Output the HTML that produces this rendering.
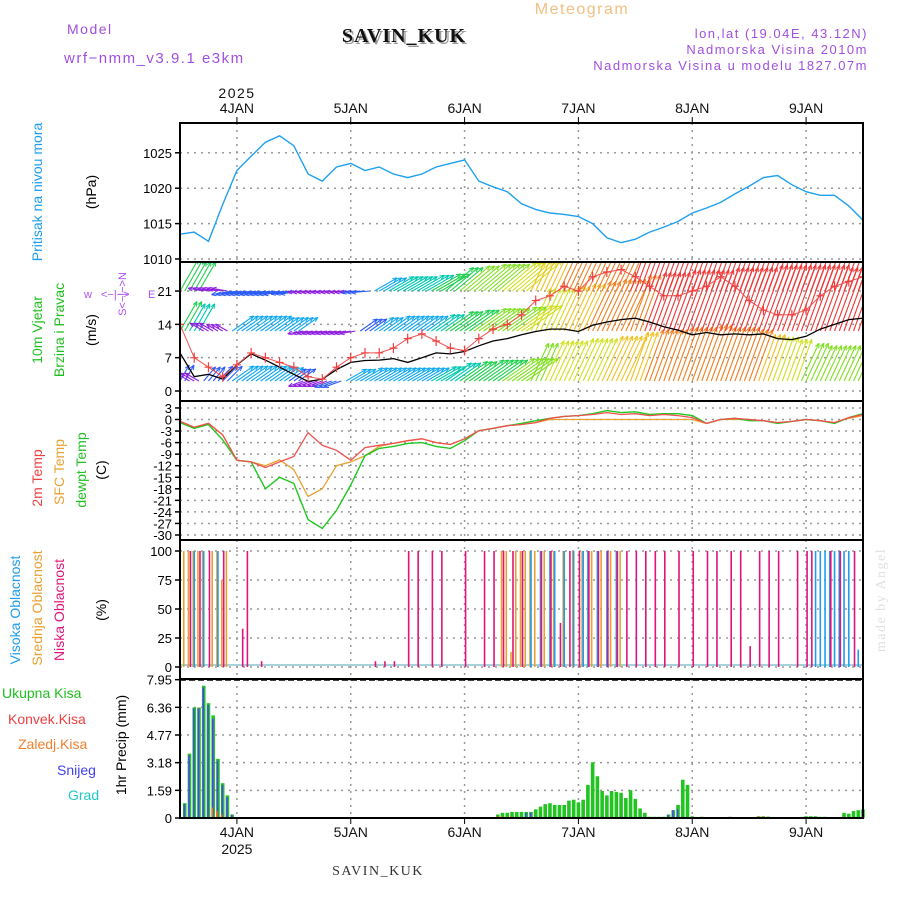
<!DOCTYPE html>
<html><head><meta charset="utf-8"><style>
html,body{margin:0;padding:0;background:#fff}
svg{display:block;font-family:"Liberation Sans",sans-serif}
</style></head><body>
<svg id="chart" width="900" height="900" viewBox="0 0 900 900" xmlns="http://www.w3.org/2000/svg">
<defs>
<clipPath id="c1"><rect x="180" y="123" width="683" height="139"/></clipPath>
<clipPath id="c2"><rect x="180" y="262" width="683" height="139"/></clipPath>
<clipPath id="c3"><rect x="180" y="401" width="683" height="139"/></clipPath>
<clipPath id="c4"><rect x="180" y="540" width="683" height="139"/></clipPath>
<clipPath id="c5"><rect x="180" y="679" width="683" height="139"/></clipPath>
</defs>
<g font-size="14" letter-spacing="1.5">
<text x="67" y="34" fill="#a050e0">Model</text>
<text x="64" y="63" fill="#a050e0" font-size="15">wrf−nmm_v3.9.1 e3km</text>
<text x="406" y="44" fill="#999" font-size="20" font-weight="bold" font-family="Liberation Serif,serif" text-anchor="middle" letter-spacing="1">SAVIN_KUK</text>
<text x="404" y="42" fill="#111" font-size="20" font-weight="bold" font-family="Liberation Serif,serif" text-anchor="middle" letter-spacing="1">SAVIN_KUK</text>
<text x="582" y="14" fill="#f0c080" font-size="16" text-anchor="middle">Meteogram</text>
<text x="868" y="38" fill="#a050e0" font-size="13" text-anchor="end">lon,lat (19.04E, 43.12N)</text>
<text x="868" y="54" fill="#a050e0" font-size="13" text-anchor="end">Nadmorska Visina 2010m</text>
<text x="868" y="70" fill="#a050e0" font-size="13" text-anchor="end">Nadmorska Visina u modelu 1827.07m</text>
<text x="237" y="98" font-size="14" text-anchor="middle" fill="#111">2025</text>
<text x="378" y="875" font-size="14" text-anchor="middle" fill="#333" font-family="Liberation Serif,serif">SAVIN_KUK</text>
<text x="885" y="600" font-size="14" fill="#dde3dd" font-family="Liberation Serif,serif" text-anchor="middle" transform="rotate(-90 885 600)">made by Angel</text>
</g>
<g font-size="14">
<text transform="translate(42 192) rotate(-90)" text-anchor="middle" fill="#1e9cf0">Pritisak na nivou mora</text>
<text transform="translate(96 192) rotate(-90)" text-anchor="middle" fill="#000">(hPa)</text>
<text transform="translate(42 330) rotate(-90)" text-anchor="middle" fill="#20c020">10m Vjetar</text>
<text transform="translate(64 330) rotate(-90)" text-anchor="middle" fill="#20c020">Brzina i Pravac</text>
<text transform="translate(96 330) rotate(-90)" text-anchor="middle" fill="#000">(m/s)</text>
<g fill="#b050f0" font-size="11">
<text x="84" y="298">w</text><text x="101" y="298">&lt;−|−&gt;</text><text x="148" y="298">E</text>
<text transform="translate(126 294) rotate(-90)" text-anchor="middle">S&lt;−|−&gt;N</text>
</g>
<text transform="translate(42 478) rotate(-90)" text-anchor="middle" fill="#f04040">2m Temp</text>
<text transform="translate(64 472) rotate(-90)" text-anchor="middle" fill="#e8a030">SFC Temp</text>
<text transform="translate(86 470) rotate(-90)" text-anchor="middle" fill="#20c020">dewpt Temp</text>
<text transform="translate(106 470) rotate(-90)" text-anchor="middle" fill="#000">(C)</text>
<text transform="translate(20 610) rotate(-90)" text-anchor="middle" fill="#1e9cf0">Visoka Oblacnost</text>
<text transform="translate(42 608) rotate(-90)" text-anchor="middle" fill="#e8a030">Srednja Oblacnost</text>
<text transform="translate(64 610) rotate(-90)" text-anchor="middle" fill="#e0147a">Niska Oblacnost</text>
<text transform="translate(106 610) rotate(-90)" text-anchor="middle" fill="#000">(%)</text>
<text transform="translate(126 745) rotate(-90)" text-anchor="middle" fill="#000">1hr Precip (mm)</text>
<text x="2" y="698" fill="#20c020">Ukupna Kisa</text>
<text x="8" y="724" fill="#f04040">Konvek.Kisa</text>
<text x="18" y="749" fill="#f08030">Zaledj.Kisa</text>
<text x="57" y="775" fill="#4040f0">Snijeg</text>
<text x="68" y="800" fill="#20c8c8">Grad</text>
</g>
<g id="grid"></g>
<g id="marks"></g>
<g id="frame"></g>
</svg>
<script>
// ---------- data ----------
const dayLabels = ["4JAN","5JAN","6JAN","7JAN","8JAN","9JAN"];
const dayHours = [12,36,60,84,108,132];
const pressTicks = [1010,1015,1020,1025];
const windTicks = [0,7,14,21];
const tempTicks = [3,0,-3,-6,-9,-12,-15,-18,-21,-24,-27,-30];
const cloudTicks = [0,25,50,75,100];
const precipTicks = [0,1.59,3.18,4.77,6.36,7.95];
// 3-hourly series (h = 0,3,...,144)
const pressure = [1013.5,1013.8,1012.5,1017.7,1022.5,1024.5,1026.5,1027.4,1026,1022,1021,1023,1023.5,1022.5,1023,1022,1021.5,1022,1023,1023.5,1024,1021,1020.2,1019.5,1017.8,1017,1016.5,1016.3,1016,1015,1013,1012.3,1012.8,1013.8,1014.5,1015.3,1016.5,1017.2,1018,1019.2,1020.3,1021.5,1021.8,1020.5,1019.5,1019,1019,1017.5,1015.5];
const temp2m = [-0.5,-2,-1,-4,-10.6,-11,-12.5,-11,-9.6,-3.4,-6.7,-8,-10.6,-7.3,-6.7,-6.2,-5.5,-5,-6,-6.5,-5,-2.9,-2.3,-1.6,-1.3,-0.8,0.3,0.8,1,1.3,1.8,1.3,1.5,1,1.3,1,0.5,-1,0,0.3,0,-0.3,-0.8,-0.5,0,-0.3,-0.8,0.5,1.3];
const tempSfc = [-0.5,-2,-1,-4,-10.6,-11,-12,-10.5,-13,-20,-18,-12,-11,-9.4,-7,-6.2,-5.5,-5,-6,-6.5,-5,-2.9,-2.3,-1.6,-1.3,-0.8,0,0,0,0,0,0,0,0,0,0,0,-1,0,0,0,-0.3,-0.8,-0.5,0,-0.3,-0.8,0.3,1];
const dewpt = [-0.8,-2.3,-1.3,-5.3,-10.6,-11,-18,-15,-16.6,-26,-28.3,-23.6,-17,-9.4,-7.5,-7,-6.2,-6,-7,-7.5,-5.5,-2.9,-2.3,-1.6,-1,-0.3,0.3,0.8,1,1.5,2.3,1.8,2,1.3,1.5,1.5,1,-1,0,0.3,-0.3,-0.3,-1,-0.5,0,-0.3,-1,0.5,1.5];
const windSpeed = [8,3,3.5,2.5,5.5,7.8,6.5,5,3.5,2,2.5,4.5,6,6.4,6.5,6.8,6,7,8,7.8,8.3,9.5,10.5,11,11.8,12.5,13,13,12.5,13.8,14.5,15,15.3,14.5,13.5,12.8,11.8,12.3,11.8,12,11.8,12,11,10.8,11.5,13,14,15,15.3];
const windGust = [14,7,5,3,5.5,8,7,6,5,3,2.5,5,7,8,8,9,11,12,10.5,9,8.5,11,13,14,16,19,20,22,21,24,25,25.5,24,22,20,20,21,22,24,22,19,17,16,16,17,20,22,23,24];
const row1Speed = [4,3,4,5,7,7,7,6,5,3,3,4,6,7,7,7,7,7,8,9,10,11,11,12,12,13,14,14,15,15,16,16,17,18,18,19,19,20,19,19,18,16,15,14,13,12,12,12,12];
const row1Dir = [30,-60,40,45,55,55,55,55,55,-110,-110,-110,60,60,60,60,60,60,60,55,55,55,55,55,55,25,25,25,25,25,25,25,20,20,20,20,20,20,20,20,20,20,20,20,25,25,25,25,25];
const row2Speed = [10,9,3,2,7,7,7,6,6,3,3,3,3,5,6,7,7,7,8,10,11,12,12,13,14,15,15,16,17,18,19,19,20,21,21,22,22,22,23,23,23,24,24,24,24,24,23,23,23];
const row2Dir = [30,30,-60,-60,55,55,55,55,55,-100,-100,-100,-100,55,55,55,55,55,55,55,55,55,55,55,55,25,25,25,25,25,25,25,20,20,20,20,20,20,20,20,20,20,20,20,20,20,20,20,20];
const row3Speed = [11,10,3,3,5,5,5,5,4,3,3,3,3,4,7,8,8,9,10,11,12,13,13,14,15,16,17,18,19,19,20,20,21,22,22,23,23,24,24,24,25,25,25,25,25,25,25,25,25];
const row3Dir = [30,30,-80,-80,-100,-100,-100,-100,-100,-95,-95,-95,-95,-95,60,60,60,60,60,50,50,50,50,50,50,25,25,25,25,25,25,25,20,20,20,20,20,20,20,20,20,20,20,20,20,20,20,20,20];
// cloud (sparse hourly)
const lowHours = [2,4,6,9,13,14,17,41,43,45,48,50,53,55,60,64,66,68,70,72,76,78,80,82,84,86,88,90,92,94,96,98,100,102,105,108,111,113,116,118,120,122,124,126,130,132,133,137,139,142];
const lowPct = [100,100,100,100,33,100,5,5,5,5,100,100,100,100,100,100,100,100,100,100,100,100,38,100,100,100,100,100,100,100,100,100,100,100,100,100,100,100,100,100,18,100,100,100,100,100,100,100,100,100];
const midHours = [1,2,3,4,5,7,8,9,10,68,69,70,71,72,73,74,75,77,79,81,83,85,87,89,91,93];
const midPct = [100,100,100,100,100,100,100,75,100,100,100,13,100,100,100,100,100,100,100,100,100,100,100,100,100,100];
const highHours = [3,5,8,74,76,78,79,81,83,85,86,88,90,92,134,135,136,137,138,139,140,141,143];
const highPct = [100,100,100,100,100,100,100,100,100,100,100,100,100,100,100,100,100,100,100,100,100,100,15];
// precip hourly (sparse)
const precipHours = [1,2,3,4,5,6,7,8,9,10,11,66,67,68,69,70,71,72,73,74,75,76,77,78,79,80,81,82,83,84,85,86,87,88,89,90,91,92,93,94,95,96,97,98,99,100,101,102,103,104,105,106,107,108,110,116,122,123,124,125,131,132,133,134,135,136,140,141,142,143,144];
const precipTotal = [0.85,3.7,6.35,6.35,7.6,6.6,5.9,3.4,2.0,1.3,0.2,0.05,0.2,0.3,0.3,0.35,0.35,0.35,0.35,0.35,0.5,0.65,0.8,0.85,0.75,0.75,0.75,1.0,1.05,0.9,1.05,1.9,3.2,2.4,1.55,1.3,1.55,1.5,1.45,1.15,1.6,1.1,0.55,0.3,0.07,0.07,0.07,0.07,0.2,0.45,0.75,2.2,1.9,0.1,0.07,0.07,0.1,0.1,0.08,0.05,0.05,0.1,0.1,0.1,0.07,0.07,0.3,0.25,0.4,0.45,0.5];
const precipSnow = [0.8,3.6,6.3,6.3,7.5,6.5,5.7,3.3,1.9,1.2,0.2,0,0,0,0,0,0,0,0.3,0.3,0,0,0,0,0,0,0,0,0,0,0,0,0,0,0,0,0,0,0,0,0,0,0,0,0,0,0,0,0.2,0.45,0.5,0,0,0,0,0,0,0,0,0,0,0,0,0,0,0,0,0,0,0,0];
const precipFrz = [0,0,0,0,0,0,0.6,0.4,0.2,0,0,0.05,0.1,0.1,0.05,0.1,0,0,0,0,0,0,0,0,0,0,0,0,0,0,0,0,0,0,0,0,0,0,0,0,0,0,0,0,0,0,0,0,0,0,0,0,0,0,0,0,0.1,0.1,0.05,0,0,0.05,0.05,0,0,0,0,0,0,0,0];

// ---------- scales ----------
const X = h => 180 + h * 683 / 144;
const yP = p => 259 - (p - 1010) * 7.08;
const yW = v => 391 - v * 4.76;
const yT = t => 419.5 - t * 3.85;
const yC = c => 667 - c * 1.16;
const yR = r => 818 - r * 17.4;
const NS = "http://www.w3.org/2000/svg";
const grid = document.getElementById('grid'), marks = document.getElementById('marks'), frame = document.getElementById('frame');
function mk(tag, attrs, parent){const e=document.createElementNS(NS,tag);for(const k in attrs)e.setAttribute(k,attrs[k]);parent.appendChild(e);return e;}
function spdColor(s){
  if(s<3.5)return "#9020e0"; if(s<5.5)return "#2c5cf8"; if(s<7.5)return "#10a8f0"; if(s<9.5)return "#00c8b0";
  if(s<12)return "#20d050"; if(s<14)return "#80e020"; if(s<16)return "#d0e020"; if(s<18)return "#f0c020";
  if(s<21)return "#f08020"; return "#f03838";
}
const panels=[[123,yP,pressTicks],[262,yW,windTicks],[401,yT,tempTicks],[540,yC,cloudTicks],[679,yR,precipTicks]];
panels.forEach((p,i)=>{
  const top=p[0];
  p[2].forEach(v=>{
    const y=p[1](v);
    if(y<top-2||y>top+141)return;
    const gl=mk('line',{x1:180,x2:863,y1:y,y2:y,stroke:'#999','stroke-dasharray':'2,5','stroke-width':1.5},grid);
    
    
    mk('line',{x1:175,x2:181,y1:y,y2:y,stroke:'#000','stroke-width':1.5},frame);
    const t=mk('text',{x:172,y:y+5,'text-anchor':'end','font-size':13,fill:'#000'},frame);
    t.textContent=(i===4&&v!==0?v.toFixed(2):v);
    
    
  });
  dayHours.forEach(h=>{
    const vl=mk('line',{x1:X(h),x2:X(h),y1:top,y2:top+139,stroke:'#999','stroke-dasharray':'2,5','stroke-width':1.5},grid);
    
    
  });
  const r=mk('rect',{x:180,y:top,width:683,height:139,fill:'none',stroke:'#000','stroke-width':2},frame);
  
  
});
mk('line',{x1:180,x2:863,y1:680,y2:680,stroke:'#000','stroke-width':1.5,'stroke-dasharray':'6,3'},frame);
dayLabels.forEach((d,i)=>{
  const x=X(dayHours[i]);
  const t1=mk('text',{x:x,y:113,'text-anchor':'middle','font-size':14,fill:'#111'},frame);t1.textContent=d;
  
  
  const t2=mk('text',{x:x,y:837,'text-anchor':'middle','font-size':14,fill:'#111'},frame);t2.textContent=d;
  
  
  mk('line',{x1:x,x2:x,y1:818,y2:824,stroke:'#000'},frame);
  mk('line',{x1:x,x2:x,y1:117,y2:123,stroke:'#000'},frame);
});
const yr=mk('text',{x:X(12),y:854,'text-anchor':'middle','font-size':14,fill:'#111'},frame);yr.textContent='2025';



function line(arr,yf,color,clip,name,w){
  const pts=arr.map((v,i)=>X(i*3).toFixed(1)+','+yf(v).toFixed(1)).join(' ');
  const pl=mk('polyline',{points:pts,fill:'none',stroke:color,'stroke-width':w||1.3,'clip-path':'url(#'+clip+')'},marks);
  
  
  return pl;
}
line(pressure,yP,'#1ea0f0','c1','pressure-line',1.4);
const rows=[[row1Speed,row1Dir,381],[row2Speed,row2Dir,331],[row3Speed,row3Dir,291]];
const wg=mk('g',{'clip-path':'url(#c2)'},marks);


rows.forEach((r,ri)=>{
  const sp=r[0],dr=r[1],base=r[2];
  for(let h=0;h<=144;h++){
    const k=Math.min(48,Math.round(h/3));
    const s=sp[k],a=dr[k]*Math.PI/180,L=8+s*2.6;
    const x0=X(h),x1=x0+Math.sin(a)*L,y1=base-Math.cos(a)*L;
    const c=spdColor(s);
    const ln=mk('line',{x1:x0,y1:base,x2:x1,y2:y1,stroke:c,'stroke-width':1.1},wg);
    
    
    const ang=Math.atan2(y1-base,x1-x0);
    [2.6,-2.6].forEach(o=>{mk('line',{x1:x1,y1:y1,x2:x1-5*Math.cos(ang+o*0.15),y2:y1-5*Math.sin(ang+o*0.15),stroke:c,'stroke-width':1},wg);});
  }
});
line(windSpeed,yW,'#000','c2','wind-speed-line',1.3);
line(windGust,yW,'#f05050','c2','wind-gust-line',1);
windGust.forEach((v,i)=>{
  const x=X(i*3),y=yW(v);
  const cr=mk('path',{d:`M${x-4},${y}H${x+4}M${x},${y-5}V${y+5}`,stroke:'#f04040','stroke-width':1.2,'clip-path':'url(#c2)'},marks);
  
  
});
line(tempSfc,yT,'#e8a030','c3','sfc-temp-line',1.3);
line(dewpt,yT,'#20c820','c3','dewpt-line',1.4);
line(temp2m,yT,'#f05050','c3','temp2m-line',1.3);
const zl=mk('line',{x1:180,x2:863,y1:665,y2:665,stroke:'#70b8c0','stroke-width':1.2},marks);


function clouds(hours,vals,color,name,off){
  hours.forEach((h,i)=>{
    const x=X(h)+off;
    const b=mk('line',{x1:x,x2:x,y1:667,y2:yC(vals[i]),stroke:color,'stroke-width':1.6,'clip-path':'url(#c4)'},marks);
    
    
  });
}
clouds(midHours,midPct,'#e8a030','mid-cloud-bar',-1);
clouds(highHours,highPct,'#1e9cf0','high-cloud-bar',0);
clouds(lowHours,lowPct,'#e0147a','low-cloud-bar',1);
precipHours.forEach((h,i)=>{
  const x=X(h);
  const b=mk('rect',{x:x-1.8,y:yR(precipTotal[i]),width:3.6,height:818-yR(precipTotal[i]),fill:'#22c422'},marks);
  
  
  if(precipSnow[i]>0){
    const s=mk('rect',{x:x-1.2,y:yR(precipSnow[i]),width:1.6,height:818-yR(precipSnow[i]),fill:'#4848f0'},marks);
    
    
  }
  if(precipFrz[i]>0){
    const f=mk('rect',{x:x-1.8,y:yR(precipFrz[i]),width:1.6,height:818-yR(precipFrz[i]),fill:'#f07020'},marks);
    
    
  }
});
</script>
</body></html>
